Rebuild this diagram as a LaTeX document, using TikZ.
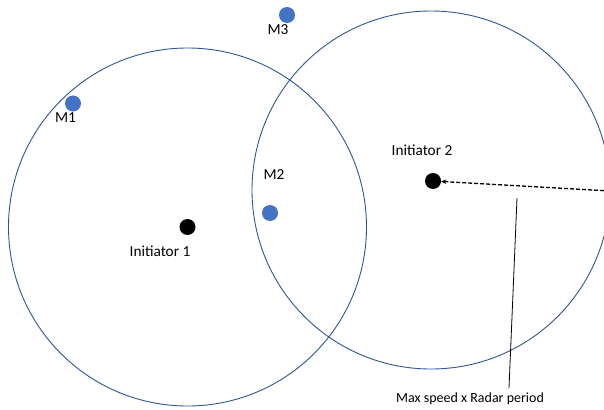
\documentclass[tikz,border=0pt]{standalone}
\usepackage{fontspec}
\setmainfont{Carlito}
\usetikzlibrary{arrows.meta}
\definecolor{rangeblue}{HTML}{2F5597}
\definecolor{mobileblue}{HTML}{4472C4}
\begin{document}
\begin{tikzpicture}[x=1pt,y=-1pt,
  rangering/.style={draw=rangeblue,line width=0.9pt},
  initdot/.style={circle,fill=black,inner sep=0pt,minimum size=16pt},
  mobiledot/.style={circle,fill=mobileblue,inner sep=0pt,minimum size=16pt},
  lbl/.style={inner sep=0pt,font=\fontsize{15.3}{18}\selectfont},
  smalllbl/.style={inner sep=0pt,font=\fontsize{14}{17}\selectfont}]
\useasboundingbox (0,0) rectangle (604,409);
\clip (0,0) rectangle (604,409);
% range circles of the two initiators
\draw[rangering] (187.5,227) circle[radius=179];
\draw[rangering] (431,190) circle[radius=179];
% initiators
\node[initdot] (i1) at (187.5,227) {};
\node[initdot] (i2) at (433,181) {};
\node[lbl] (i1l) at (160,251) {Initiator 1};
\node[lbl] (i2l) at (422,150) {Initiator 2};
% mobiles
\node[mobiledot] (m1) at (73,103.5) {};
\node[mobiledot] (m2) at (270,213) {};
\node[mobiledot] (m3) at (287,15) {};
\node[lbl] (m1l) at (65.5,118) {M1};
\node[lbl] (m2l) at (274,175) {M2};
\node[lbl] (m3l) at (278,29.5) {M3};
% radius arrow and its annotation
\coordinate (rim) at (610,191);
\draw[dashed,dash pattern=on 4pt off 2pt,line width=1.3pt,
  -{Stealth[length=5pt,width=4.5pt]}] (rim) -- (i2);
\node[smalllbl] (speed) at (470,399) {Max speed x Radar period};
\coordinate (leadtop) at (517,198);
\coordinate (leadbot) at (509,388);
\draw[line width=0.8pt] (leadtop) -- (leadbot);
\end{tikzpicture}
\end{document}
